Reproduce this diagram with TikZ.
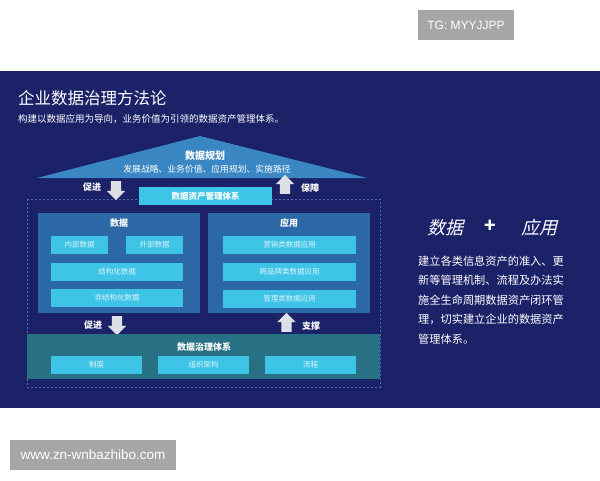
\documentclass[tikz,border=0pt]{standalone}
\usepackage{fontspec}
\setmainfont{Noto Sans CJK SC}
\newfontfamily\slantfont{Noto Sans CJK SC}[FakeSlant=0.25]
\newfontfamily\markfont{Liberation Sans}
\usetikzlibrary{positioning}
\usetikzlibrary{shapes.arrows}

\definecolor{navy}{RGB}{28,34,104}
\definecolor{cyanbox}{RGB}{62,196,230}
\definecolor{celltext}{RGB}{222,243,252}
\definecolor{panelblue}{RGB}{44,104,166}
\definecolor{panelteal}{RGB}{40,112,132}
\definecolor{roofblue}{RGB}{58,135,196}
\definecolor{arrowgrey}{RGB}{222,224,232}
\definecolor{markgrey}{RGB}{166,166,166}
\definecolor{dashblue}{RGB}{84,108,172}

\begin{document}
\begin{tikzpicture}[x=1pt,y=-1pt,
    cell/.style={fill=cyanbox, text=celltext, inner sep=0pt, minimum height=18pt,
      font=\fontsize{7.5}{8}\selectfont},
    panel/.style={inner sep=0pt},
    head/.style={text=white, inner sep=0pt, font=\bfseries\fontsize{9}{10}\selectfont},
    blockdown/.style={single arrow, fill=arrowgrey, inner sep=5pt,
      single arrow head extend=4pt, minimum height=19pt, shape border rotate=270},
    blockup/.style={blockdown, shape border rotate=90},
    watermark/.style={fill=markgrey, text=white, inner sep=0pt, font=\markfont}]
        \useasboundingbox (0,0) rectangle (600,480);
        % Define the coordinates of the background
        \fill[white] (0,0) rectangle (600,480);
        \fill[navy] (0,71) rectangle (600,408);

        % Watermarks
        \node[watermark, minimum width=96pt, minimum height=30pt, font=\markfont\fontsize{12}{14}\selectfont]
            (tag) at (466,25) {TG: MYYJJPP};
        \node[watermark, minimum width=166pt, minimum height=30pt, font=\markfont\fontsize{13.5}{15}\selectfont]
            (site) at (93,455) {www.zn-wnbazhibo.com};

        % Title and subtitle
        \node[text=white, anchor=west, inner sep=0pt, font=\fontsize{16.5}{18}\selectfont]
            (title) at (18,98) {企业数据治理方法论};
        \node[text=white, anchor=west, inner sep=0pt, font=\fontsize{9.5}{11}\selectfont]
            (subtitle) at (18,119) {构建以数据应用为导向，业务价值为引领的数据资产管理体系。};

        % Draw the roof
        \coordinate (roofl) at (37,178);
        \coordinate (roofr) at (367,178);
        \coordinate (apex) at (200,136);
        \fill[roofblue] (roofl) -- (apex) -- (roofr) -- cycle;
        \node[head, font=\bfseries\fontsize{10}{11}\selectfont] (plan) at (205,156) {数据规划};
        \node[text=white, inner sep=0pt, font=\fontsize{8.8}{10}\selectfont]
            (plantext) at (207,169) {发展战略、业务价值、应用规划、实施路径};

        % Dashed frame
        \draw[dashblue, line width=0.6pt, dash pattern=on 2pt off 2pt] (27,199) rectangle (380,387);

        \node[cell, minimum width=133pt, text=white, font=\bfseries\fontsize{8.5}{10}\selectfont]
            (asset) at (205.5,196) {数据资产管理体系};

        % Block arrows
        \node[blockdown] (downa) at (116,188) {};
        \node[blockup] (upa) at (285,187) {};
        \node[blockdown] (downb) at (117,323) {};
        \node[blockup] (upb) at (286.5,325) {};
        \foreach \name/\pos/\label in {pa/{(92,187)}/促进, pb/{(310,188)}/保障,
                                       pc/{(93,325)}/促进, pd/{(311,326)}/支撑}
        \node[head] (\name) at \pos {\label};

        % Data and application panels
        \node[panel, fill=panelblue, minimum width=162pt, minimum height=100pt] (datapanel) at (119,263) {};
        \node[panel, fill=panelblue, minimum width=162pt, minimum height=100pt] (apppanel) at (289,263) {};
        \node[head, anchor=north, below=6pt of datapanel.north] (datahead) {数据};
        \node[head, anchor=north, below=6pt of apppanel.north] (apphead) {应用};

        \node[cell, minimum width=57pt] (inner) at (79.5,245) {内部数据};
        \node[cell, minimum width=57pt] (outer) at (154.5,245) {外部数据};
        \node[cell, minimum width=132pt] (struct) at (117,272) {结构化数据};
        \node[cell, minimum width=132pt] (unstruct) at (117,298) {非结构化数据};

        \foreach \name/\y/\label in {market/245/营销类数据应用, cross/272/跨品牌类数据应用,
                                     manage/299/管理类数据应用}
        \node[cell, minimum width=133pt] (\name) at (289.5,\y) {\label};

        % Governance panel
        \node[panel, fill=panelteal, minimum width=353pt, minimum height=45pt] (govpanel) at (203.5,356.5) {};
        \node[head] (govhead) at (204,347) {数据治理体系};
        \foreach \name/\x/\label in {rule/96.5/制度, org/203.5/组织架构, flow/310.5/流程}
        \node[cell, minimum width=91pt] (\name) at (\x,365) {\label};

        % Right side text
        \node[text=white, inner sep=0pt, font=\slantfont\fontsize{18}{20}\selectfont] (kdata) at (445,228) {数据};
        \node[text=white, inner sep=0pt, font=\bfseries\fontsize{19}{20}\selectfont] (kplus) at (490,226) {+};
        \node[text=white, inner sep=0pt, font=\slantfont\fontsize{18}{20}\selectfont] (kapp) at (539,228) {应用};
        \foreach \line [count=\i from 0] in {建立各类信息资产的准入、更, 新等管理机制、流程及办法实,
                                             施全生命周期数据资产闭环管, 理，切实建立企业的数据资产, 管理体系。}
        \node[text=white, anchor=west, inner sep=0pt, font=\fontsize{11.2}{13}\selectfont]
            (line\i) at (418,261+19.5*\i) {\line};
\end{tikzpicture}
\end{document}
